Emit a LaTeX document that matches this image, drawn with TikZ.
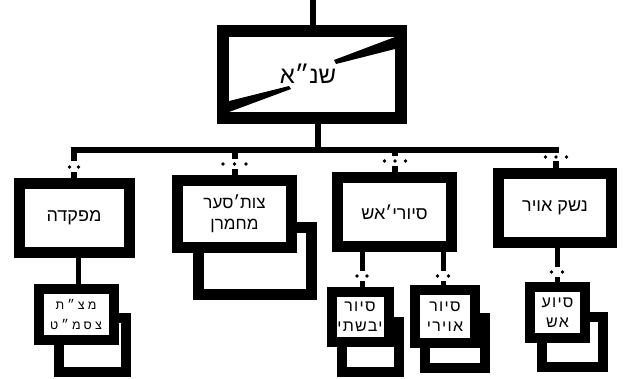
\documentclass[tikz,border=0pt]{standalone}
\usepackage{fontspec}
\usetikzlibrary{calc}
\TeXXeTstate=1
\newfontfamily\heb[Script=Hebrew]{Liberation Sans}
\newfontfamily\hebsp[Script=Hebrew,LetterSpace=8]{Liberation Sans}
\newfontfamily\hebspw[Script=Hebrew,LetterSpace=25]{Liberation Sans}
\newcommand\hb[1]{\beginR#1\endR}
\begin{document}
\begin{tikzpicture}[x=1pt,y=-1pt,
  bigbox/.style={draw=black, fill=white, line width=11pt, inner sep=0pt, align=center,
    font=\heb\fontsize{18}{21}\selectfont},
  smallbox/.style={draw=black, fill=white, line width=10pt, inner sep=0pt, align=center,
    font=\hebsp\fontsize{16}{20}\selectfont},
  conn/.style={line width=6pt},
  leg/.style={line width=5pt},
  dotmark/.style={fill=black}]
\useasboundingbox (0,0) rectangle (627,378);

% top box
\node[bigbox, line width=12pt, minimum width=178pt, minimum height=87pt,
      font=\heb\fontsize{24}{26}\selectfont] (top) at (312,74.5) {};
\fill (217,112) rectangle (407,124);
\fill (229,112) -- (229,101) -- (289,86) -- (291,89) -- cycle;
\fill (395,37) -- (395,49) -- (336,64) -- (334,60) -- cycle;
\node[font=\heb\fontsize{24}{26}\selectfont] (toptxt) at (308,74) {\hb{שנ״א}};

% main boxes
\node[bigbox, minimum width=110pt, minimum height=69pt] (b1) at (74,218) {\hb{מפקדה}};
\node[bigbox, minimum width=113pt, minimum height=67pt] (b2back) at (255,261) {};
\node[bigbox, minimum width=114pt, minimum height=67pt, font=\heb\fontsize{17}{21}\selectfont]
      (b2) at (234.5,214) {\hb{צות׳סער}\\\hb{מחמרן}};
\node[bigbox, minimum width=114pt, minimum height=69pt] (b3) at (394.5,212) {\hb{סיורי׳אש}};
\node[bigbox, minimum width=113pt, minimum height=69pt] (b4) at (555,208) {\hb{נשק אויר}};

% child boxes
\node[smallbox, minimum width=67pt, minimum height=54pt] (c1back) at (92,345) {};
\node[smallbox, minimum width=75pt, minimum height=51pt, font=\hebspw\fontsize{12.5}{20}\selectfont]
      (c1) at (76,314.5) {\hb{מצ״ת}\\\hb{צסמ״ט}};
\node[smallbox, minimum width=57pt, minimum height=50pt] (c2back) at (370,347) {};
\node[smallbox, minimum width=57pt, minimum height=50pt] (c2) at (360,317) {\hb{סיור}\\\hb{יבשתי}};
\node[smallbox, minimum width=60pt, minimum height=50pt] (c3back) at (455,343) {};
\node[smallbox, minimum width=60pt, minimum height=53pt] (c3) at (445,316.5) {\hb{סיור}\\\hb{אוירי}};
\node[smallbox, minimum width=61pt, minimum height=50pt] (c4back) at (572.5,342) {};
\node[smallbox, minimum width=55pt, minimum height=51pt] (c4) at (557.5,312.5) {\hb{סיוע}\\\hb{אש}};

% stems and bus
\coordinate (topin) at (313,0);
\draw[conn] (topin) -- (topin |- top.north);
\coordinate (ts) at ($(top.south)+(6,0)$);
\coordinate (busL) at (74,150);
\coordinate (busR) at (556,150);
\draw[conn] (ts) -- (ts |- busL);
\draw[conn] ([xshift=-3pt]busL) -- ([xshift=3pt]busR);

% drops with dotted gaps
\coordinate (g1) at (74,167);
\draw[conn] (g1 |- busL) -- ($(g1)+(0,-6)$);
\draw[conn] ($(g1)+(0,5)$) -- (g1 |- b1.north);
\fill[dotmark] ($(g1)+(-4.5,0)$) circle (1.8) ($(g1)+(4.5,0)$) circle (1.8);

\coordinate (g2) at (234.5,164);
\draw[conn] (g2 |- busL) -- ($(g2)+(0,-5)$);
\draw[conn] ($(g2)+(0,5)$) -- (g2 |- b2.north);
\fill[dotmark] ($(g2)+(-11.5,0)$) circle (1.8) (g2) circle (1.8) ($(g2)+(11.5,0)$) circle (1.8);

\coordinate (g3) at (395,161);
\draw[conn] (g3 |- busL) -- ($(g3)+(0,-5)$);
\draw[conn] ($(g3)+(0,5)$) -- (g3 |- b3.north);
\fill[dotmark] ($(g3)+(-10.5,0)$) circle (1.8) (g3) circle (1.8) ($(g3)+(10.5,0)$) circle (1.8);

\coordinate (g4) at (556,157);
\draw[conn] (g4 |- busL) -- ($(g4)+(0,-4)$);
\draw[conn] ($(g4)+(0,4)$) -- (g4 |- b4.north);
\fill[dotmark] ($(g4)+(-10.5,0)$) circle (1.8) (g4) circle (1.8) ($(g4)+(10.5,0)$) circle (1.8);

% child connectors
\coordinate (l1) at (78,270);
\draw[leg] (l1 |- b1.south) -- (l1 |- c1.north);

\coordinate (g5) at (362,276);
\draw[leg] (g5 |- b3.south) -- ($(g5)+(0,-5)$);
\draw[leg] ($(g5)+(0,5)$) -- (g5 |- c2.north);
\fill[dotmark] ($(g5)+(-5,0)$) circle (1.8) ($(g5)+(5,0)$) circle (1.8);

\coordinate (g6) at (443,276);
\draw[leg] (g6 |- b3.south) -- ($(g6)+(0,-5)$);
\draw[leg] ($(g6)+(0,5)$) -- (g6 |- c3.north);
\fill[dotmark] ($(g6)+(-5.5,0)$) circle (1.8) ($(g6)+(5.5,0)$) circle (1.8);

\coordinate (g7) at (557,272);
\draw[leg] (g7 |- b4.south) -- ($(g7)+(0,-5)$);
\draw[leg] ($(g7)+(0,5)$) -- (g7 |- c4.north);
\fill[dotmark] ($(g7)+(-5.5,0)$) circle (1.8) ($(g7)+(5.5,0)$) circle (1.8);
\end{tikzpicture}
\end{document}
